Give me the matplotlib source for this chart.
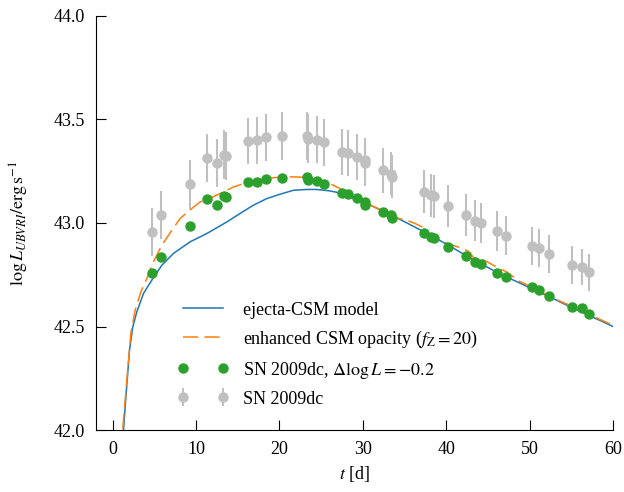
import matplotlib
matplotlib.use("Agg")
import matplotlib.pyplot as plt
import numpy as np

plt.rcParams['font.family'] = ['Liberation Serif', 'DejaVu Serif']
plt.rcParams['mathtext.fontset'] = 'stix'
plt.rcParams['font.size'] = 13

# SN 2009dc bolometric (UBVRI) light curve
t_obs = [4.70, 5.78, 9.33, 11.33, 12.49, 13.30, 13.60, 16.28, 17.28, 18.40,
         20.28, 23.30, 23.40, 24.48, 25.39, 27.47, 28.27, 29.27, 30.20, 30.26,
         32.39, 33.40, 33.52, 37.30, 38.14, 38.58, 40.22, 42.38, 43.49, 44.13,
         46.13, 47.21, 50.29, 51.13, 52.36, 55.12, 56.32, 57.12]
L_obs = [42.957, 43.038, 43.187, 43.314, 43.289, 43.330, 43.325, 43.396, 43.400, 43.414,
         43.419, 43.420, 43.408, 43.403, 43.389, 43.343, 43.338, 43.319, 43.302, 43.288,
         43.255, 43.238, 43.224, 43.152, 43.134, 43.129, 43.084, 43.039, 43.012, 43.000,
         42.960, 42.938, 42.890, 42.878, 42.849, 42.796, 42.788, 42.761]
L_err = [0.117, 0.117, 0.117, 0.118, 0.117, 0.117, 0.117, 0.113, 0.113, 0.113,
         0.115, 0.118, 0.118, 0.115, 0.113, 0.110, 0.110, 0.110, 0.108, 0.108,
         0.108, 0.105, 0.105, 0.105, 0.104, 0.104, 0.101, 0.100, 0.099, 0.098,
         0.096, 0.095, 0.092, 0.092, 0.091, 0.092, 0.088, 0.091]
dlogL = -0.2

# ejecta-CSM model
t_model = [1.20, 1.30, 1.62, 2.02, 2.42, 2.90, 3.70, 4.70, 5.90, 7.29,
           9.29, 11.29, 13.69, 15.28, 16.88, 18.48, 20.08, 21.67, 23.28, 24.48,
           26.07, 27.27, 28.47, 30.47, 32.50, 34.46, 36.50, 38.46, 40.50, 42.46,
           44.50, 46.45, 48.50, 50.44, 52.50, 54.45, 56.50, 58.50, 60.00]
L_model = [41.50, 42.000, 42.177, 42.386, 42.499, 42.571, 42.660, 42.724, 42.796, 42.853,
           42.909, 42.949, 43.005, 43.046, 43.086, 43.118, 43.139, 43.158, 43.162, 43.162,
           43.155, 43.145, 43.126, 43.094, 43.056, 43.017, 42.975, 42.933, 42.887, 42.840,
           42.796, 42.753, 42.716, 42.679, 42.641, 42.603, 42.565, 42.528, 42.500]

# enhanced CSM opacity (f_Z = 20)
t_enh = [1.10, 1.20, 1.70, 2.18, 2.70, 3.38, 4.10, 4.89, 5.90, 7.10,
         8.09, 9.49, 10.49, 11.30, 12.49, 13.70, 14.48, 16.28, 18.48, 20.28,
         21.67, 23.28, 25.68, 27.27, 28.50, 29.50, 30.50, 31.50, 32.50, 33.50,
         34.30, 35.30, 36.30, 37.10, 37.80, 38.50, 39.50, 40.50, 41.50, 42.30,
         42.85, 43.30, 43.80, 44.80, 45.65, 46.30, 47.20, 47.90, 48.40, 49.50,
         50.50, 51.50, 52.50, 53.50, 54.50, 55.50, 56.50, 57.50, 58.50, 59.50, 60.00]
L_enh = [41.50, 42.000, 42.241, 42.467, 42.579, 42.667, 42.732, 42.812, 42.893, 42.965,
         43.022, 43.070, 43.102, 43.112, 43.135, 43.158, 43.174, 43.198, 43.215, 43.223,
         43.223, 43.220, 43.198, 43.166, 43.135, 43.115, 43.096, 43.075, 43.057, 43.035,
         43.022, 43.013, 42.997, 42.981, 42.955, 42.932, 42.912, 42.896, 42.883, 42.870,
         42.858, 42.830, 42.832, 42.815, 42.796, 42.781, 42.765, 42.745, 42.725, 42.705,
         42.685, 42.663, 42.645, 42.625, 42.607, 42.588, 42.570, 42.552, 42.533, 42.515, 42.505]

x_ticks = [0, 10, 20, 30, 40, 50, 60]
y_ticks = [42.0, 42.5, 43.0, 43.5, 44.0]

fig = plt.figure(figsize=(6.24, 4.92), dpi=100)
ax = fig.add_axes([0.1538, 0.126, 0.8286, 0.8415])

eb = ax.errorbar(t_obs, L_obs, yerr=L_err, fmt='o', color='#c0c0c0', ms=6.5,
                 elinewidth=1.5, capsize=0, zorder=1, label='SN 2009dc')
l1, = ax.plot(t_model, L_model, color='#1f77b4', lw=1.1, zorder=2,
              label='ejecta-CSM model')
l2, = ax.plot(t_enh, L_enh, color='#ff7f0e', lw=1.1, dashes=[10, 4], zorder=2.1,
              label=r'enhanced CSM opacity ($f_\mathrm{Z}=20$)')
L_shift = np.array(L_obs) + dlogL
g, = ax.plot(t_obs, L_shift, 'o', color='#2ca02c', ms=6.5, zorder=3,
             label=r'SN 2009dc, $\Delta\log L=-0.2$')

ax.set_xlim(-2, 60)
ax.set_ylim(42.0, 44.0)
ax.set_xticks(x_ticks)
ax.set_yticks(y_ticks)
ax.set_yticklabels([f"{v:.1f}" for v in y_ticks])
ax.tick_params(direction='in', length=7.5, width=0.8, pad=8, top=False, right=False)
ax.spines['top'].set_visible(False)
ax.spines['right'].set_visible(False)

ax.set_xlabel(r'$t$ [d]')
ax.set_ylabel(r'$\log L_{UBVRI}/\mathrm{erg\,s^{-1}}$')
ax.yaxis.set_label_coords(-0.125, 0.5)

ax.legend(handles=[l1, l2, g, eb], loc='upper left', bbox_to_anchor=(0.158, 0.31),
          frameon=False, numpoints=2, handlelength=2.8, handletextpad=0.8,
          labelspacing=0.55, borderpad=0, borderaxespad=0)

fig.savefig('out.png', dpi=100)
